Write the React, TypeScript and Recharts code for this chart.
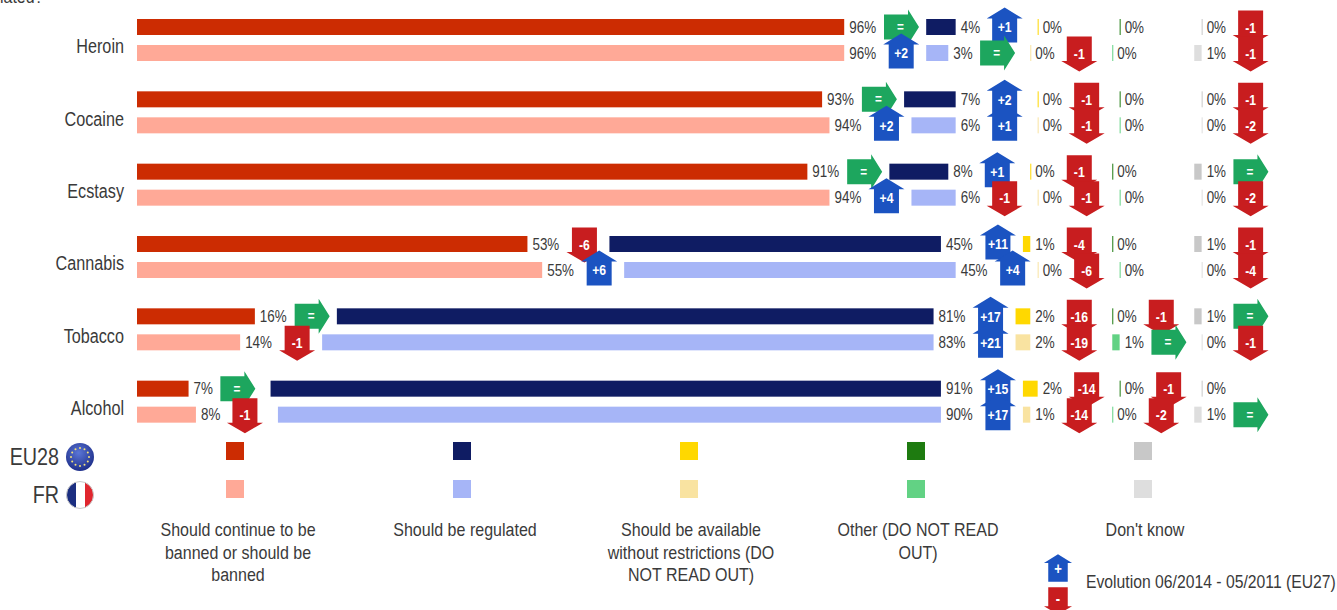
import React from "react";
import { BarChart, Bar, XAxis, YAxis, LabelList } from "recharts";

const categories = ["Heroin", "Cocaine", "Ecstasy", "Cannabis", "Tobacco", "Alcohol"];
const groups = ["ban", "reg", "avail", "other", "dk"];
const groupLabels = [
  ["Should continue to be", "banned or should be", "banned"],
  ["Should be regulated"],
  ["Should be available", "without restrictions (DO", "NOT READ OUT)"],
  ["Other (DO NOT READ", "OUT)"],
  ["Don't know"],
];

const euBan = [96, 93, 91, 53, 16, 7];
const euReg = [4, 7, 8, 45, 81, 91];
const euAvail = [0, 0, 0, 1, 2, 2];
const euOther = [0, 0, 0, 0, 0, 0];
const euDk = [0, 0, 1, 1, 1, 0];

const frBan = [96, 94, 94, 55, 14, 8];
const frReg = [3, 6, 6, 45, 83, 90];
const frAvail = [0, 0, 0, 0, 2, 1];
const frOther = [0, 0, 0, 0, 1, 0];
const frDk = [1, 0, 0, 0, 0, 1];

const euBanEvo = ["=", "=", "=", "-6", "=", "="];
const euRegEvo = ["+1", "+2", "+1", "+11", "+17", "+15"];
const euAvailEvo = ["", "-1", "-1", "-4", "-16", "-14"];
const euOtherEvo = ["", "", "", "", "-1", "-1"];
const euDkEvo = ["-1", "-1", "=", "-1", "=", ""];

const frBanEvo = ["+2", "+2", "+4", "+6", "-1", "-1"];
const frRegEvo = ["=", "+1", "-1", "+4", "+21", "+17"];
const frAvailEvo = ["-1", "-1", "-1", "-6", "-19", "-14"];
const frOtherEvo = ["", "", "", "", "=", "-2"];
const frDkEvo = ["-1", "-2", "-2", "-4", "-1", "="];

const euColors = ["#CC2C02", "#0F1C63", "#FFD800", "#1E7B10", "#C8C8C8"];
const frColors = ["#FFA997", "#A6B5F7", "#F9E3A1", "#62D284", "#DEDEDE"];

const SPACER = 11.13;
const SQUEEZE = 0.84;
const TEXT = "#3a3a3a";
const FONT = "'Liberation Sans', Arial, sans-serif";

const euValues = [euBan, euReg, euAvail, euOther, euDk];
const frValues = [frBan, frReg, frAvail, frOther, frDk];
const euEvos = [euBanEvo, euRegEvo, euAvailEvo, euOtherEvo, euDkEvo];
const frEvos = [frBanEvo, frRegEvo, frAvailEvo, frOtherEvo, frDkEvo];

const data = categories.map((name, i) => {
  const row: Record<string, string | number> = { name };
  groups.forEach((g, k) => {
    row[`eu_${g}`] = euValues[k][i];
    row[`fr_${g}`] = frValues[k][i];
    row[`eu_${g}_gap`] = SPACER;
    row[`fr_${g}_gap`] = SPACER;
  });
  return row;
});

function Sq({ x, y, size, anchor = "start", fill = TEXT, weight = "normal", children }: any) {
  return (
    <text
      transform={`translate(${x} ${y}) scale(${SQUEEZE} 1)`}
      textAnchor={anchor}
      fontSize={size}
      fontFamily={FONT}
      fontWeight={weight}
      fill={fill}
    >
      {children}
    </text>
  );
}

function Arrow({ left, cy, label, size = 14.5 }: { left: number; cy: number; label: string; size?: number }) {
  if (label === "=") {
    const l = left + 0.8;
    const pts = [
      [l, cy - 12.5], [l + 24, cy - 12.5], [l + 24, cy - 17.5], [l + 35, cy],
      [l + 24, cy + 17.5], [l + 24, cy + 12.5], [l, cy + 12.5],
    ];
    return (
      <g>
        <polygon points={pts.map((p) => p.join(",")).join(" ")} fill="#1DA65E" />
        <Sq x={l + 16.5} y={cy + 5} size={14} anchor="middle" fill="#fff" weight="bold">=</Sq>
      </g>
    );
  }
  const c = left + 18;
  if (label.startsWith("+")) {
    const top = cy - 19.5;
    const pts = [
      [c, top], [c + 18, top + 11], [c + 12.5, top + 11], [c + 12.5, cy + 15.5],
      [c - 12.5, cy + 15.5], [c - 12.5, top + 11], [c - 18, top + 11],
    ];
    return (
      <g>
        <polygon points={pts.map((p) => p.join(",")).join(" ")} fill="#1B53C1" />
        <Sq x={c} y={cy + 5.2} size={size} anchor="middle" fill="#fff" weight="bold">{label}</Sq>
      </g>
    );
  }
  const pts = [
    [c - 12.5, cy - 16.5], [c + 12.5, cy - 16.5], [c + 12.5, cy + 8], [c + 18, cy + 8],
    [c, cy + 18.5], [c - 18, cy + 8], [c - 12.5, cy + 8],
  ];
  return (
    <g>
      <polygon points={pts.map((p) => p.join(",")).join(" ")} fill="#C81D1F" />
      <Sq x={c} y={cy + 5.7} size={size} anchor="middle" fill="#fff" weight="bold">{label}</Sq>
    </g>
  );
}

function MinBar({ x, y, width, height, fill }: any) {
  return <rect x={x} y={y} width={Math.max(width, 1)} height={height} fill={fill} />;
}

function makeMark(evos: string[]) {
  return function Mark(props: any) {
    const { x, y, width, height, value, index } = props;
    const end = x + width;
    const cy = y + height / 2;
    const text = `${value}%`;
    const labelW = String(value).length > 1 ? 39 : 31;
    const evo = evos[index];
    return (
      <g>
        <Sq x={end + 5} y={cy + 5.8} size={16}>{text}</Sq>
        {evo ? <Arrow left={end + labelW} cy={cy} label={evo} /> : null}
      </g>
    );
  };
}

function CategoryTick({ x, y, payload }: any) {
  return <Sq x={x} y={y + 13} size={19.3} anchor="end">{payload.value}</Sq>;
}

function series(prefix: string, colors: string[], evos: string[][]) {
  return groups.flatMap((g, k) => {
    const items = [
      <Bar
        key={`${prefix}_${g}`}
        dataKey={`${prefix}_${g}`}
        stackId={prefix}
        fill={colors[k]}
        isAnimationActive={false}
        shape={<MinBar />}
      >
        <LabelList dataKey={`${prefix}_${g}`} content={makeMark(evos[k])} />
      </Bar>,
    ];
    if (k < groups.length - 1) {
      items.push(
        <Bar
          key={`${prefix}_${g}_gap`}
          dataKey={`${prefix}_${g}_gap`}
          stackId={prefix}
          fill="none"
          isAnimationActive={false}
        />
      );
    }
    return items;
  });
}

const legendCentres = [235, 462, 689, 916, 1143];
const labelCentres = [238, 465, 691, 918, 1145];
const starAngles = [0, 30, 60, 90, 120, 150, 180, 210, 240, 270, 300, 330];

function Overlay() {
  return (
    <svg
      width={1337}
      height={610}
      style={{ position: "absolute", left: 0, top: 0, pointerEvents: "none" }}
    >
      <defs>
        <radialGradient id="euGlobe" cx="45%" cy="35%" r="70%">
          <stop offset="0%" stopColor="#5B76D6" />
          <stop offset="100%" stopColor="#1A2A85" />
        </radialGradient>
        <clipPath id="frClip"><circle cx={80} cy={495} r={13.5} /></clipPath>
      </defs>

      <Sq x={0} y={3} size={19}>lated?</Sq>

      <Sq x={59} y={465} size={23.5} anchor="end">EU28</Sq>
      <Sq x={59} y={503} size={23.5} anchor="end">FR</Sq>

      <circle cx={80} cy={457} r={14} fill="url(#euGlobe)" />
      {starAngles.map((a) => (
        <circle
          key={a}
          cx={80 + 9 * Math.cos((a * Math.PI) / 180)}
          cy={457 + 9 * Math.sin((a * Math.PI) / 180)}
          r={1}
          fill="#F5E27A"
        />
      ))}
      <g clipPath="url(#frClip)">
        <rect x={66} y={481} width={10} height={28} fill="#1B2E80" />
        <rect x={76} y={481} width={9} height={28} fill="#FFFFFF" />
        <rect x={85} y={481} width={10} height={28} fill="#E0262E" />
      </g>
      <circle cx={80} cy={495} r={13.5} fill="none" stroke="#C9C9C9" strokeWidth={1} />

      {legendCentres.map((c, k) => (
        <g key={k}>
          <rect x={c - 9} y={442} width={18} height={18} fill={euColors[k]} />
          <rect x={c - 9} y={480} width={18} height={18} fill={frColors[k]} />
        </g>
      ))}
      {groupLabels.map((lines, k) =>
        lines.map((line, j) => (
          <Sq key={`${k}-${j}`} x={labelCentres[k]} y={536 + j * 22.5} size={19.1} anchor="middle">
            {line}
          </Sq>
        ))
      )}

      <g transform="translate(1058 568) scale(0.78) translate(-18 2)"><Arrow left={0} cy={0} label="+" size={20} /></g>
      <g transform="translate(1058 600) scale(0.78) translate(-18 0)"><Arrow left={0} cy={0} label="-" size={20} /></g>
      <Sq x={1086} y={588} size={18.75}>Evolution 06/2014 - 05/2011 (EU27)</Sq>
    </svg>
  );
}

export default function App() {
  return (
    <div style={{ position: "absolute", left: 0, top: 0, width: 1337, height: 610, overflow: "hidden", background: "#fff" }}>
      <BarChart
        width={1337}
        height={610}
        data={data}
        layout="vertical"
        barSize={16}
        barGap={10}
        margin={{ top: 4, right: 95, bottom: 172, left: 0 }}
      >
        <XAxis type="number" domain={[0, 150]} hide allowDataOverflow />
        <YAxis
          type="category"
          dataKey="name"
          width={137}
          tickLine={false}
          axisLine={false}
          interval={0}
          tickMargin={0}
          tick={(p: any) => <CategoryTick x={124} y={p.y} payload={p.payload} />}
        />
        {series("eu", euColors, euEvos)}
        {series("fr", frColors, frEvos)}
      </BarChart>
      <Overlay />
    </div>
  );
}
